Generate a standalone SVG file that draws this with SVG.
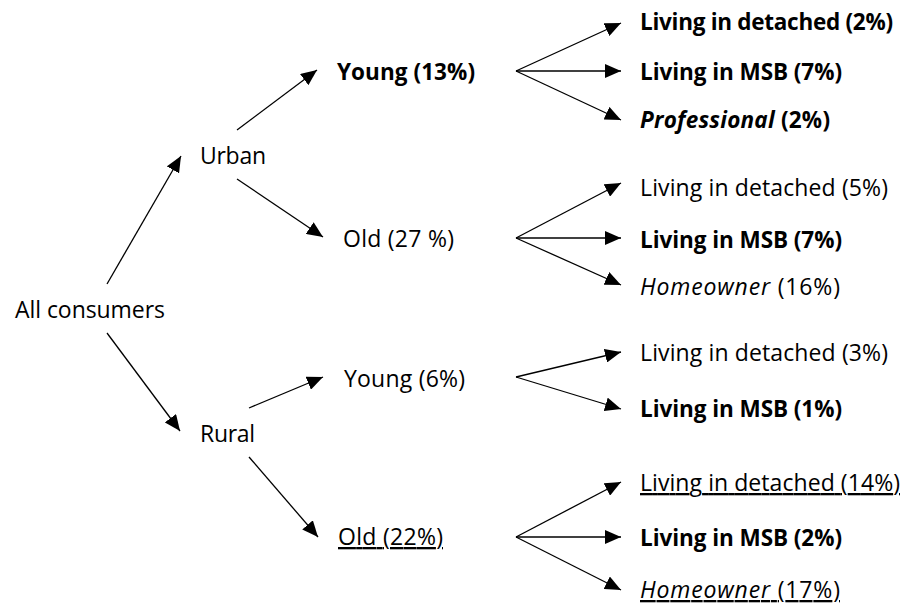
<svg xmlns="http://www.w3.org/2000/svg" width="904" height="608" viewBox="0 0 904 608">
<style>
text{font-family:"Open Sans","Liberation Sans",sans-serif;font-size:23px;fill:#000}
.b{font-weight:bold;font-size:22.5px}
.i{font-style:italic}
.u{text-decoration:underline}
.c line{stroke:#000;stroke-width:1.3;fill:none;marker-end:url(#ah)}
</style>
<defs>
<marker id="ah" markerUnits="userSpaceOnUse" viewBox="0 0 16 14" markerWidth="16" markerHeight="14" refX="16" refY="7" orient="auto">
<path d="M0,0 L16,7 L0,14 Z" fill="#000"/>
</marker>
</defs>
<rect width="904" height="608" fill="#fff"/>
<g class="c" id="connectors">
<line x1="107" y1="284" x2="181" y2="156"/>
<line x1="107" y1="333" x2="180" y2="431"/>
<line x1="237" y1="130" x2="317" y2="70"/>
<line x1="237" y1="179" x2="323" y2="237"/>
<line x1="249" y1="408" x2="323" y2="377"/>
<line x1="249" y1="457" x2="318" y2="537"/>
<line x1="516" y1="71" x2="621" y2="23"/>
<line x1="516" y1="71" x2="621" y2="71"/>
<line x1="516" y1="71" x2="621" y2="120"/>
<line x1="516" y1="238" x2="621" y2="183"/>
<line x1="516" y1="238" x2="621" y2="238"/>
<line x1="516" y1="238" x2="621" y2="285"/>
<line x1="516" y1="377" x2="621" y2="352"/>
<line x1="516" y1="377" x2="621" y2="409"/>
<line x1="516" y1="537" x2="621" y2="482"/>
<line x1="516" y1="537" x2="621" y2="537"/>
<line x1="516" y1="537" x2="621" y2="590"/>
</g>
<g id="all"><text x="15" y="318" textLength="150">All consumers</text></g>
<g id="urban"><text x="200" y="164" textLength="66">Urban</text></g>
<g id="rural"><text x="200" y="442" textLength="55">Rural</text></g>
<g id="urban-young"><text class="b" x="337" y="80" textLength="138">Young (13%)</text></g>
<g id="urban-old"><text x="343" y="247" textLength="111">Old (27 %)</text></g>
<g id="rural-young"><text x="344" y="387" textLength="121">Young (6%)</text></g>
<g id="rural-old"><text class="u" x="338" y="545" textLength="105">Old (22%)</text></g>
<g id="uy-detached"><text class="b" x="640" y="30" textLength="253">Living in detached (2%)</text></g>
<g id="uy-msb"><text class="b" x="640" y="80" textLength="202">Living in MSB (7%)</text></g>
<g id="uy-prof"><text class="b" x="640" y="128" textLength="190"><tspan class="i">Professional</tspan> (2%)</text></g>
<g id="uo-detached"><text x="640" y="196" textLength="248">Living in detached (5%)</text></g>
<g id="uo-msb"><text class="b" x="640" y="248" textLength="202">Living in MSB (7%)</text></g>
<g id="uo-home"><text x="640" y="295" textLength="200"><tspan class="i">Homeowner</tspan> (16%)</text></g>
<g id="ry-detached"><text x="640" y="361" textLength="248">Living in detached (3%)</text></g>
<g id="ry-msb"><text class="b" x="640" y="417" textLength="202">Living in MSB (1%)</text></g>
<g id="ro-detached"><text class="u" x="640" y="491" textLength="260">Living in detached (14%)</text></g>
<g id="ro-msb"><text class="b" x="640" y="546" textLength="202">Living in MSB (2%)</text></g>
<g id="ro-home"><text class="u" x="640" y="598" textLength="200"><tspan class="i">Homeowner</tspan> (17%)</text></g>
</svg>
